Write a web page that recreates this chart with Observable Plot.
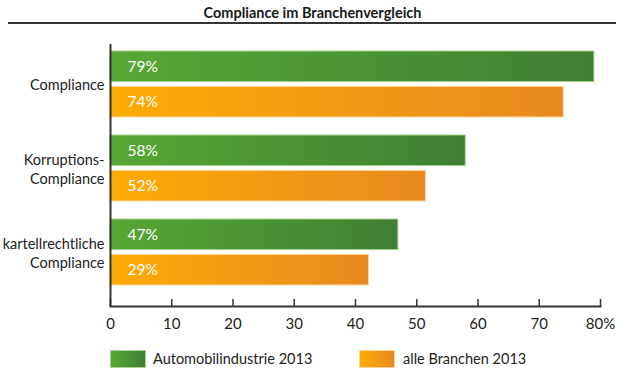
<!DOCTYPE html>
<html><head><meta charset="utf-8">
<script src="https://cdn.jsdelivr.net/npm/d3@7"></script>
<script src="https://cdn.jsdelivr.net/npm/@observablehq/plot@0.6"></script>
<style>
body{margin:0;background:#fff;font-family:Lato,"Open Sans",sans-serif;color:#222;}
#wrap{position:relative;width:625px;height:371px;overflow:hidden;}
#title{position:absolute;top:4px;left:0;width:625px;text-align:center;font-size:14.5px;font-weight:700;color:#1a1a1a;}
#rule{position:absolute;top:22px;left:8px;width:608px;height:2px;background:#333;}
#chart{position:absolute;top:28px;left:0;}
#legend{position:absolute;top:350px;left:0;width:625px;height:20px;font-size:14.5px;}
.sw{position:absolute;top:0;width:36px;height:18px;box-sizing:border-box;}
.lt{position:absolute;top:0;line-height:18px;}
</style></head><body>
<div id="wrap">
 <div id="title">Compliance im Branchenvergleich</div>
 <div id="rule"></div>
 <div id="chart"></div>
 <div id="legend"></div>
</div>
<script>
const categories = ["Compliance", "Korruptions-\nCompliance", "kartellrechtliche\nCompliance"];
const series = ["Automobilindustrie 2013", "alle Branchen 2013"];
const autoValues = [79, 58, 47];
const allValues = [74, 51.5, 42.2];
const autoLabels = ["79%", "58%", "47%"];
const allLabels = ["74%", "52%", "29%"];
const xTicks = [0, 10, 20, 30, 40, 50, 60, 70, 80];
const xTickLabels = ["0", "10", "20", "30", "40", "50", "60", "70", "80%"];
const seriesColors = [["#57a834", "#3e8033"], ["#fdab05", "#e88a20"]];
const seriesBorders = ["#a8d28f", "#fdd49a"];

const autoData = categories.map((c, i) => ({category: c, value: autoValues[i], label: autoLabels[i]}));
const allData = categories.map((c, i) => ({category: c, value: allValues[i], label: allLabels[i]}));

const defs = () => {
  const ns = "http://www.w3.org/2000/svg";
  const d = document.createElementNS(ns, "defs");
  seriesColors.forEach((cols, k) => {
    const g = document.createElementNS(ns, "linearGradient");
    g.setAttribute("id", "grad" + k);
    g.setAttribute("x1", "0"); g.setAttribute("x2", "1");
    g.setAttribute("y1", "0"); g.setAttribute("y2", "0");
    cols.forEach((c, j) => {
      const s = document.createElementNS(ns, "stop");
      s.setAttribute("offset", j ? "1" : "0");
      s.setAttribute("stop-color", c);
      g.appendChild(s);
    });
    d.appendChild(g);
  });
  return d;
};

const inset = 35.4;
const plot = Plot.plot({
  width: 625,
  height: 310,
  marginTop: 16,
  marginBottom: 32,
  marginLeft: 110,
  marginRight: 25,
  style: {fontFamily: "Lato, 'Open Sans', sans-serif", color: "#222", background: "transparent"},
  x: {domain: [0, 80], axis: null},
  y: {domain: categories, axis: null, paddingInner: 0.2134, paddingOuter: 0.149, align: 0.237},
  marks: [
    defs,
    Plot.barX(autoData, {x: "value", y: "category", fill: "url(#grad0)", stroke: seriesBorders[0], strokeWidth: 1, insetBottom: inset}),
    Plot.barX(allData, {x: "value", y: "category", fill: "url(#grad1)", stroke: seriesBorders[1], strokeWidth: 1, insetTop: inset}),
    Plot.text(autoData, {x: 0, y: "category", text: "label", dx: 17, dy: -17.7, textAnchor: "start", fill: "white", fontSize: 15.5}),
    Plot.text(allData, {x: 0, y: "category", text: "label", dx: 17, dy: 17.7, textAnchor: "start", fill: "white", fontSize: 15.5}),
    Plot.axisY({tickSize: 0, tickPadding: 6, fontSize: 14.5, lineHeight: 1.28, fill: "#222", label: null}),
    Plot.axisX({ticks: xTicks, tickSize: 7, dy: -7, fill: "none", stroke: "#333", strokeWidth: 1.5, label: null}),
    Plot.axisX({ticks: xTicks, tickSize: 0, tickPadding: 12, fontSize: 15, fill: "#222", label: null,
      tickFormat: d => xTickLabels[xTicks.indexOf(d)]}),
    Plot.ruleX([0], {stroke: "#333", strokeWidth: 2}),
    Plot.frame({anchor: "bottom", stroke: "#333", strokeWidth: 2})
  ]
});
document.getElementById("chart").appendChild(plot);

const legend = document.getElementById("legend");
const legendPos = [[110, 153], [359, 403]];
series.forEach((s, k) => {
  const sw = document.createElement("div");
  sw.className = "sw";
  sw.style.left = legendPos[k][0] + "px";
  sw.style.background = `linear-gradient(to right, ${seriesColors[k][0]}, ${seriesColors[k][1]})`;
  sw.style.border = `1px solid ${seriesBorders[k]}`;
  legend.appendChild(sw);
  const t = document.createElement("div");
  t.className = "lt";
  t.style.left = legendPos[k][1] + "px";
  t.textContent = s;
  legend.appendChild(t);
});
</script>
</body></html>
